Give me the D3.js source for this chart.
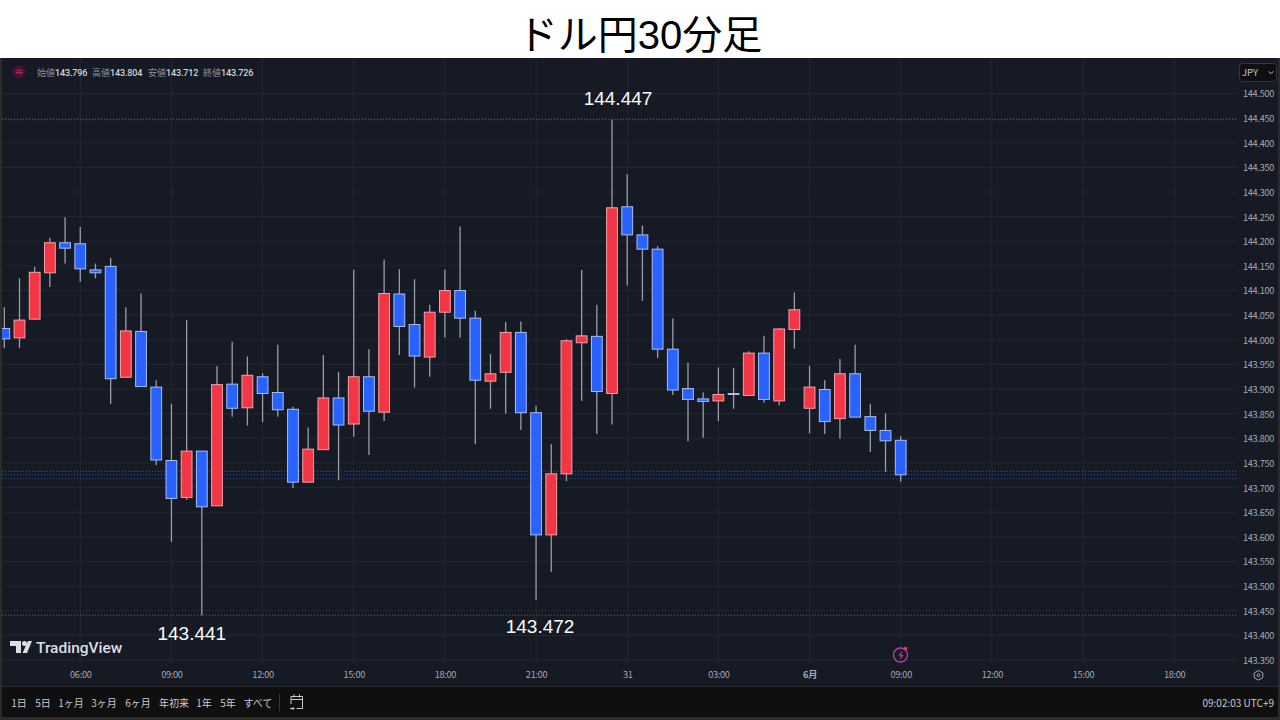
<!DOCTYPE html>
<html><head><meta charset="utf-8">
<script src="https://cdnjs.cloudflare.com/ajax/libs/d3/7.8.5/d3.min.js"></script>
<style>
html,body{margin:0;padding:0;background:#fff;overflow:hidden}
svg{display:block}
text{font-family:"Noto Sans CJK JP","Noto Sans",sans-serif}
</style></head><body><svg id="c" width="1280" height="720"></svg>
<script>
const opens=[144.023,144.004,144.042,144.136,144.197,144.195,144.142,144.149,143.924,144.017,143.904,143.755,143.680,143.774,143.663,143.910,143.862,143.925,143.893,143.859,143.711,143.777,143.882,143.829,143.925,143.853,144.093,144.031,143.965,144.056,144.100,144.044,143.916,143.934,144.015,143.852,143.604,143.728,143.994,144.007,143.891,144.270,144.213,144.184,143.981,143.901,143.880,143.876,143.891,143.887,143.973,143.876,144.021,143.861,143.899,143.840,143.931,143.844,143.816,143.796];
const highs=[144.066,144.125,144.148,144.207,144.249,144.229,144.155,144.166,144.066,144.094,143.918,143.870,144.040,143.774,143.947,143.996,143.966,143.932,143.990,143.864,143.822,143.969,143.935,144.142,143.981,144.163,144.143,144.123,144.071,144.142,144.230,144.059,143.971,144.036,144.037,143.866,143.788,144.001,144.142,144.071,144.447,144.336,144.232,144.190,144.043,143.954,143.893,143.944,143.943,143.977,144.008,144.024,144.096,143.947,143.918,143.961,143.990,143.870,143.851,143.804];
const lows=[143.983,143.983,144.040,144.107,144.155,144.118,144.125,143.870,143.924,143.905,143.746,143.590,143.675,143.441,143.663,143.844,143.826,143.833,143.844,143.699,143.711,143.777,143.715,143.803,143.766,143.835,143.969,143.903,143.925,144.004,144.004,143.788,143.860,143.850,143.817,143.472,143.529,143.713,143.876,143.809,143.828,144.110,144.079,143.963,143.888,143.794,143.801,143.835,143.860,143.887,143.872,143.867,143.982,143.810,143.809,143.799,143.843,143.772,143.732,143.712];
const closes=[144.002,144.040,144.137,144.197,144.186,144.144,144.136,143.921,144.018,143.905,143.756,143.678,143.774,143.661,143.909,143.861,143.928,143.891,143.858,143.711,143.778,143.882,143.827,143.925,143.855,144.094,144.027,143.967,144.056,144.100,144.044,143.918,143.931,144.015,143.852,143.604,143.728,143.998,144.008,143.895,144.268,144.213,144.184,143.981,143.898,143.879,143.875,143.889,143.889,143.973,143.879,144.022,144.061,143.904,143.834,143.931,143.843,143.816,143.795,143.726];
const priceTicks=[143.35,143.40,143.45,143.50,143.55,143.60,143.65,143.70,143.75,143.80,143.85,143.90,143.95,144.00,144.05,144.10,144.15,144.20,144.25,144.30,144.35,144.40,144.45,144.50];
const timeIdx=[5,11,17,23,29,35,41,47,53,59,65,71,77];
const timeLabels=["06:00","09:00","12:00","15:00","18:00","21:00","31","03:00","6月","09:00","12:00","15:00","18:00"];
const boldIdx=[53];
const extremes=[{i:40,v:144.447,dy:-15,t:"144.447",dx:6},{i:13,v:143.441,dy:25,t:"143.441",dx:-10},{i:35,v:143.472,dy:33,t:"143.472",dx:4}];
const levelLines=[{v:144.447,c:"#5f6470"},{v:143.441,c:"#5f6470"},{v:143.733,c:"#8a4048"},{v:143.726,c:"#2a4fa8"},{v:143.718,c:"#2a4fa8"}];
const legend=[["始値","143.796"],["高値","143.804"],["安値","143.712"],["終値","143.726"]];
const ranges=["1日","5日","1ヶ月","3ヶ月","6ヶ月","年初来","1年","5年","すべて"];
const rangeX=[19,43,71,104,138,174,204,228,258];

const svg=d3.select("#c");
const W=1280,plotL=2,plotR=1237,axisR=1278,plotTop=58,plotBottom=686;
const x=d3.scaleLinear().domain([0,59]).range([4.3,900.7]);
const y=d3.scaleLinear().domain([143.35,144.5]).range([660,93.5]);

svg.append("rect").attr("width",W).attr("height",58).attr("fill","#fff");
svg.append("text").attr("x",640).attr("y",49).attr("text-anchor","middle").attr("font-size",40).attr("fill","#000")
 .attr("style","font-family:'Liberation Sans','Noto Sans CJK JP',sans-serif").text("ドル円30分足");
svg.append("rect").attr("y",58).attr("width",W).attr("height",662).attr("fill","#2b2b2b");
svg.append("rect").attr("x",plotL).attr("y",plotTop).attr("width",axisR-plotL).attr("height",plotBottom-plotTop).attr("fill","#161a25");
svg.append("rect").attr("x",plotL).attr("y",687).attr("width",axisR-plotL).attr("height",30).attr("fill","#0f0f0f");

// grid
const g=svg.append("g");
g.selectAll("line.h").data(priceTicks).join("line").attr("class","h")
 .attr("x1",plotL).attr("x2",plotR).attr("y1",d=>y(d)).attr("y2",d=>y(d)).attr("stroke","#232733").attr("stroke-width",1);
g.selectAll("line.v").data(timeIdx).join("line").attr("class","v")
 .attr("x1",d=>x(d)).attr("x2",d=>x(d)).attr("y1",plotTop).attr("y2",664).attr("stroke","#232733").attr("stroke-width",1);

// level lines
g.selectAll("line.l").data(levelLines).join("line").attr("class","l")
 .attr("x1",plotL).attr("x2",plotR).attr("y1",d=>y(d.v)).attr("y2",d=>y(d.v))
 .attr("stroke",d=>d.c).attr("stroke-width",1).attr("stroke-dasharray","1 2");

// candles
const idx=d3.range(opens.length);
svg.append("clipPath").attr("id","clip").append("rect").attr("x",plotL).attr("y",plotTop).attr("width",plotR-plotL).attr("height",plotBottom-plotTop);
const cg=svg.append("g").attr("clip-path","url(#clip)");
cg.selectAll("line").data(idx).join("line")
 .attr("x1",i=>x(i)).attr("x2",i=>x(i)).attr("y1",i=>y(highs[i])).attr("y2",i=>y(lows[i]))
 .attr("stroke","#9a9ea8").attr("stroke-width",1.3);
const up=i=>closes[i]>=opens[i];
cg.selectAll("rect").data(idx).join("rect")
 .attr("x",i=>x(i)-5.4).attr("width",10.8)
 .attr("y",i=>y(Math.max(opens[i],closes[i])))
 .attr("height",i=>Math.max(1,Math.abs(y(opens[i])-y(closes[i]))))
 .attr("fill",i=>up(i)?"#f23645":"#2962ff")
 .attr("stroke",i=>up(i)?"#f0a3aa":"#a9bdf5").attr("stroke-width",1);

// axes
const ya=d3.axisRight(y).tickValues(priceTicks).tickFormat(d3.format(".3f")).tickSize(0).tickPadding(0);
const yg=svg.append("g").attr("transform","translate(1243,0.5)").call(ya);
yg.select(".domain").remove();
yg.selectAll("text").attr("font-size",9.2).attr("letter-spacing",-0.3).attr("fill","#a6a9b2").attr("font-family","Roboto,sans-serif");
const xa=d3.axisBottom(x).tickValues(timeIdx).tickFormat((d,i)=>timeLabels[i]).tickSize(0).tickPadding(0);
const xg=svg.append("g").attr("transform","translate(0,672.5)").call(xa);
xg.select(".domain").remove();
xg.selectAll("text").attr("font-size",9.2).attr("letter-spacing",-0.3).attr("fill","#a6a9b2").attr("font-family","Roboto,'Noto Sans CJK JP',sans-serif")
 .attr("font-weight",d=>boldIdx.includes(d)?700:400).attr("dy","0.6em");

// extreme labels
svg.append("g").selectAll("text").data(extremes).join("text")
 .attr("x",d=>x(d.i)+(d.dx||0)).attr("y",d=>y(d.v)+d.dy)
 .attr("text-anchor","middle").attr("font-size",19).attr("fill","#fff")
 .attr("style","font-family:'Liberation Sans',sans-serif").text(d=>d.t);

// legend
svg.append("circle").attr("cx",19).attr("cy",72).attr("r",6.5).attr("fill","#4a1230");
svg.append("text").attr("x",19).attr("y",75).attr("text-anchor","middle").attr("font-size",9).attr("fill","#e0307a").text("≈");
const lx=[37,92,148,203];
legend.forEach((d,i)=>{
  const t=svg.append("text").attr("x",lx[i]).attr("y",76).attr("font-size",9);
  t.append("tspan").attr("fill","#8f929b").text(d[0]);
  t.append("tspan").attr("fill","#d1d4dc").attr("style","font-family:Roboto,sans-serif;font-weight:500").attr("letter-spacing",-0.15).text(d[1]);
});

// JPY button
svg.append("rect").attr("x",1239.5).attr("y",63.5).attr("width",37).attr("height",18).attr("rx",3).attr("fill","#0f0f0f").attr("stroke","#33363f");
svg.append("text").attr("x",1242).attr("y",76).attr("font-size",9.5).attr("fill","#c3c6ce").text("JPY");
svg.append("path").attr("d","M1268.5 71.5l2.5 2 2.5-2").attr("fill","none").attr("stroke","#b2b5be");

// watermark
const tv=svg.append("g").attr("fill","#dcdee3");
tv.append("path").attr("d","M10 641h11v12h-5v-7h-6z");
tv.append("circle").attr("cx",24.5).attr("cy",643.5).attr("r",2.5);
tv.append("path").attr("d","M28 641h4l-5 12h-4.5z");
tv.append("text").attr("x",36).attr("y",653).attr("font-size",15.5).attr("style","font-family:Roboto,sans-serif;font-weight:500").text("TradingView");

// bolt icon
svg.append("circle").attr("cx",900.5).attr("cy",655).attr("r",7).attr("fill","#1d1a2c").attr("stroke","#a63fb8").attr("stroke-width",1.4);
svg.append("path").attr("d","M902.5 650.5l-4 5h2.5l-1.5 4.5 4-5h-2.5z").attr("fill","#e0408a");
svg.append("circle").attr("cx",905.5).attr("cy",648.5).attr("r",1.8).attr("fill","#f23645");

// gear icon
svg.append("path").attr("d","M1258.5 670.5l4.3 2.4v4.8l-4.3 2.4-4.3-2.4v-4.8z").attr("fill","none").attr("stroke","#a6a9b2");
svg.append("circle").attr("cx",1258.5).attr("cy",675.3).attr("r",1.4).attr("fill","none").attr("stroke","#a6a9b2");

// range bar
svg.append("g").selectAll("text").data(ranges).join("text")
 .attr("x",(d,i)=>rangeX[i]).attr("y",707).attr("text-anchor","middle").attr("font-size",10).attr("fill","#c8cad0").text(d=>d);
svg.append("line").attr("x1",279.5).attr("x2",279.5).attr("y1",694).attr("y2",711).attr("stroke","#33363f");
svg.append("path").attr("d","M291 704v-7.5h11.5v12h-6M291 699.5h11.5M294 694.5v3M299.5 694.5v3M290 708.5h4m-1.5-1.5l1.5 1.5-1.5 1.5").attr("fill","none").attr("stroke","#c8cad0");
svg.append("text").attr("x",1274).attr("y",707).attr("text-anchor","end").attr("font-size",10).attr("fill","#c8cad0").text("09:02:03 UTC+9");
</script></body></html>
